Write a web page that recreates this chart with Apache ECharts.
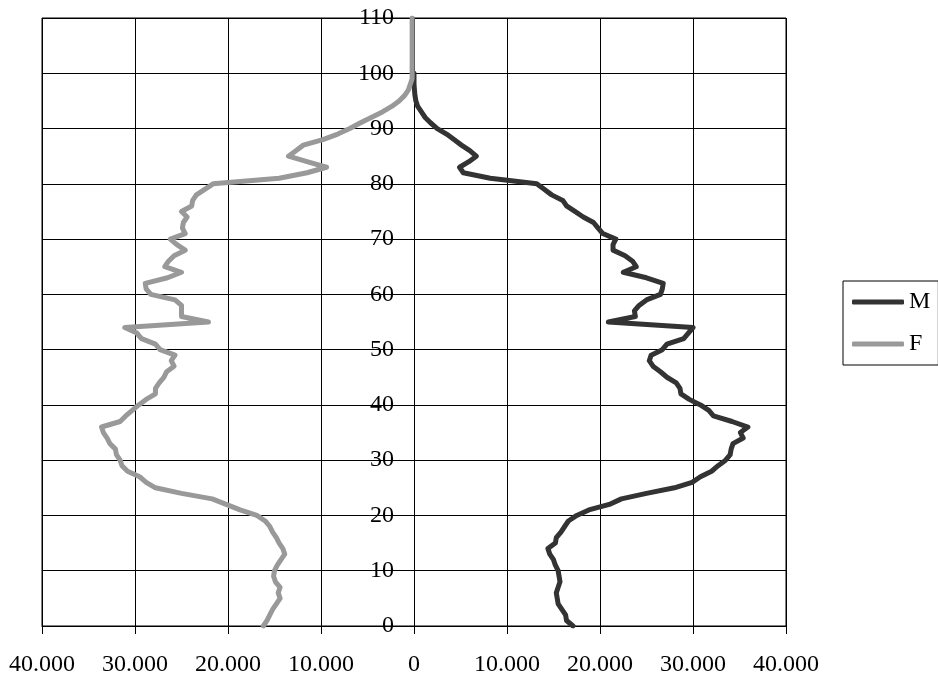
<!DOCTYPE html>
<html>
<head>
<meta charset="utf-8">
<script src="https://cdn.jsdelivr.net/npm/echarts@6/dist/echarts.min.js"></script>
<style>
    html, body { margin: 0; padding: 0; background: #fff; }
    #chart { width: 938px; height: 676px; }
</style>
</head>
<body>
<div id="chart"></div>
<script>
// age 0..100 (men) and 0..110 (women)
var male = [
    17100, 16400, 16300, 15900, 15500, 15400, 15300, 15500, 15700, 15600,
    15500, 15200, 15000, 14600, 14400, 15200, 15300, 15800, 16200, 16600,
    17500, 18800, 21000, 22300, 25000, 28000, 29900, 30800, 32000, 32700,
    33500, 34000, 34100, 34300, 35400, 35100, 35900, 34200, 32200, 31700,
    30800, 29600, 28700, 28600, 28200, 27200, 26500, 25700, 25300, 25500,
    26700, 27200, 29000, 29500, 30000, 20900, 23800, 23700, 24200, 25000,
    26500, 26700, 26800, 25000, 22500, 23900, 23500, 22700, 21400, 21400,
    21700, 20300, 19800, 19300, 18200, 17300, 16400, 16000, 14800, 14000,
    13200, 8200, 5300, 4900, 5900, 6700, 6000, 5100, 4300, 3500,
    2500, 1800, 1200, 800, 400, 200, 100, 50, 0, 0,
    0
];
var female = [
    16200, 15800, 15500, 15200, 14800, 14400, 14600, 14400, 14900, 15100,
    15000, 14700, 14300, 13900, 14100, 14500, 14800, 15200, 15500, 16000,
    16900, 18700, 20200, 21700, 25000, 27800, 28800, 29500, 30800, 31400,
    31600, 32000, 32100, 32700, 33000, 33400, 33600, 31600, 31000, 30300,
    29600, 28800, 27800, 27800, 27400, 26900, 26600, 25800, 26100, 25700,
    27300, 27800, 29300, 29800, 31100, 22100, 25000, 25000, 25000, 25700,
    28300, 28800, 28900, 26500, 25000, 26800, 26400, 25800, 24600, 25500,
    26200, 24600, 24900, 24800, 24400, 25000, 23900, 23800, 23400, 22500,
    21600, 14500, 11500, 9400, 11500, 13500, 12700, 11900, 9800, 8200,
    6900, 5800, 4600, 3400, 2400, 1600, 1000, 600, 400, 200,
    200, 200, 200, 200, 200, 200, 200, 200, 200, 200,
    200
];
var seriesNames = ['M', 'F'];

var chart = echarts.init(document.getElementById('chart'));

var serif = '"Liberation Serif", "Times New Roman", serif';

function fmt(v) {
    var s = String(Math.abs(v));
    return s.replace(/\B(?=(\d{3})+(?!\d))/g, '.');
}

var option = {
    animation: false,
    grid: {
        left: 42,
        right: 152,
        top: 18,
        bottom: 50,
        outerBoundsMode: 'none',
        containLabel: false,
        show: true,
        borderColor: '#000',
        borderWidth: 1
    },
    legend: {
        data: seriesNames,
        orient: 'vertical',
        left: 843,
        top: 281,
        padding: [9, 8, 9, 9],
        itemGap: 18,
        itemWidth: 52,
        itemHeight: 5,
        icon: 'roundRect',
        borderColor: '#000',
        borderWidth: 1,
        textStyle: { fontFamily: serif, fontSize: 24, color: '#000' }
    },
    xAxis: {
        type: 'value',
        min: -40000,
        max: 40000,
        interval: 10000,
        axisLine: { onZero: false, lineStyle: { color: '#000', width: 1 } },
        axisTick: { length: 8, lineStyle: { color: '#000' } },
        axisLabel: {
            formatter: fmt,
            margin: 27,
            fontFamily: serif,
            fontSize: 24,
            color: '#000'
        },
        splitLine: { lineStyle: { color: '#000', width: 1 } }
    },
    yAxis: {
        type: 'value',
        min: 0,
        max: 110,
        interval: 10,
        position: 'left',
        // the age axis sits at x = 0, in the middle of the plot
        offset: -372,
        axisLine: { onZero: false, lineStyle: { color: '#000', width: 1 } },
        axisTick: { length: 8, lineStyle: { color: '#000' } },
        axisLabel: {
            margin: 20,
            fontFamily: serif,
            fontSize: 24,
            color: '#000'
        },
        splitLine: { lineStyle: { color: '#000', width: 1 } }
    },
    series: [
        {
            name: 'M',
            type: 'line',
            showSymbol: false,
            color: '#333333',
            lineStyle: { width: 5, cap: 'round', join: 'round' },
            data: male.map(function (v, i) { return [v, i]; })
        },
        {
            name: 'F',
            type: 'line',
            showSymbol: false,
            color: '#999999',
            lineStyle: { width: 5, cap: 'round', join: 'round' },
            data: female.map(function (v, i) { return [-v, i]; })
        }
    ]
};

chart.setOption(option);
</script>
</body>
</html>
